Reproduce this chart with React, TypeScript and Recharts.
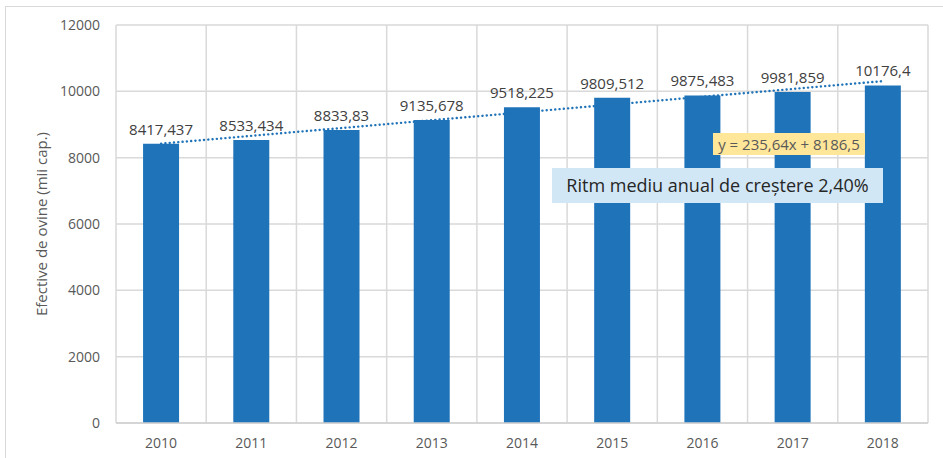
import React from "react";
import {
  ComposedChart,
  Bar,
  Line,
  XAxis,
  YAxis,
  CartesianGrid,
  LabelList,
  Label,
} from "recharts";

const years = ["2010", "2011", "2012", "2013", "2014", "2015", "2016", "2017", "2018"];
const sheep = [8417.437, 8533.434, 8833.83, 9135.678, 9518.225, 9809.512, 9875.483, 9981.859, 10176.4];
const sheepLabels = ["8417,437", "8533,434", "8833,83", "9135,678", "9518,225", "9809,512", "9875,483", "9981,859", "10176,4"];
const trendSlope = 235.64;
const trendIntercept = 8186.5;
const yTicks = [0, 2000, 4000, 6000, 8000, 10000, 12000];

const data = years.map((y, i) => ({
  year: y,
  value: sheep[i],
  label: sheepLabels[i],
  trend: trendIntercept + trendSlope * (i + 1),
}));

const FONT = "'Open Sans', sans-serif";
const GREY = "#595959";
const BLUE = "#1f73b9";

const boundaryGenerator = ({ offset }: any) =>
  years.concat([""]).map((_, i) => offset.left + (offset.width * i) / years.length);

export default function App() {
  return (
    <div
      style={{
        position: "absolute",
        left: 0,
        top: 0,
        width: 943,
        height: 458,
        overflow: "hidden",
        background: "#fff",
        fontFamily: FONT,
      }}
    >
      <div
        style={{
          position: "absolute",
          left: 5,
          top: 6,
          width: 960,
          height: 470,
          border: "1px solid #d9d9d9",
          boxSizing: "border-box",
        }}
      />
      <div style={{ position: "absolute", left: 0, top: 0 }}>
        <ComposedChart
          width={943}
          height={458}
          data={data}
          margin={{ top: 25, right: 15, bottom: 5, left: 26 }}
          barCategoryGap="30%"
        >
          <CartesianGrid
            stroke="#d9d9d9"
            strokeWidth={1.5}
            vertical
            horizontal
            verticalCoordinatesGenerator={boundaryGenerator}
          />
          <XAxis
            dataKey="year"
            tick={{ fill: GREY, fontSize: 14, fontFamily: FONT }}
            tickLine={false}
            axisLine={{ stroke: "#d0d0d0", strokeWidth: 1.5 }}
            tickMargin={9}
            height={30}
          />
          <YAxis
            domain={[0, 12000]}
            ticks={yTicks}
            tick={{ fill: GREY, fontSize: 14, fontFamily: FONT }}
            tickLine={false}
            axisLine={false}
            tickMargin={10}
            width={90}
          >
            <Label
              value="Efective de ovine (mii cap.)"
              angle={-90}
              position="center"
              dx={-29}
              style={{ fill: GREY, fontSize: 15, fontFamily: FONT, textAnchor: "middle" }}
            />
          </YAxis>
          <Bar dataKey="value" fill={BLUE} isAnimationActive={false}>
            <LabelList
              dataKey="label"
              position="top"
              offset={9}
              style={{ fill: "#404040", fontSize: 15, fontFamily: FONT }}
            />
          </Bar>
          <Line
            dataKey="trend"
            stroke={BLUE}
            strokeWidth={2.4}
            strokeLinecap="round"
            strokeDasharray="0.1 4.2"
            dot={false}
            activeDot={false}
            isAnimationActive={false}
          />
        </ComposedChart>
      </div>
      <div
        style={{
          position: "absolute",
          left: 713,
          top: 133,
          width: 152,
          height: 22,
          background: "#ffe699",
          color: GREY,
          fontSize: 15,
          lineHeight: "22px",
          textAlign: "center",
          whiteSpace: "nowrap",
        }}
      >
        y = 235,64x + 8186,5
      </div>
      <div
        style={{
          position: "absolute",
          left: 552,
          top: 168,
          width: 331,
          height: 35,
          background: "#d2e7f5",
          color: "#262626",
          fontSize: 18,
          lineHeight: "35px",
          textAlign: "center",
          whiteSpace: "nowrap",
        }}
      >
        Ritm mediu anual de creștere 2,40%
      </div>
    </div>
  );
}
